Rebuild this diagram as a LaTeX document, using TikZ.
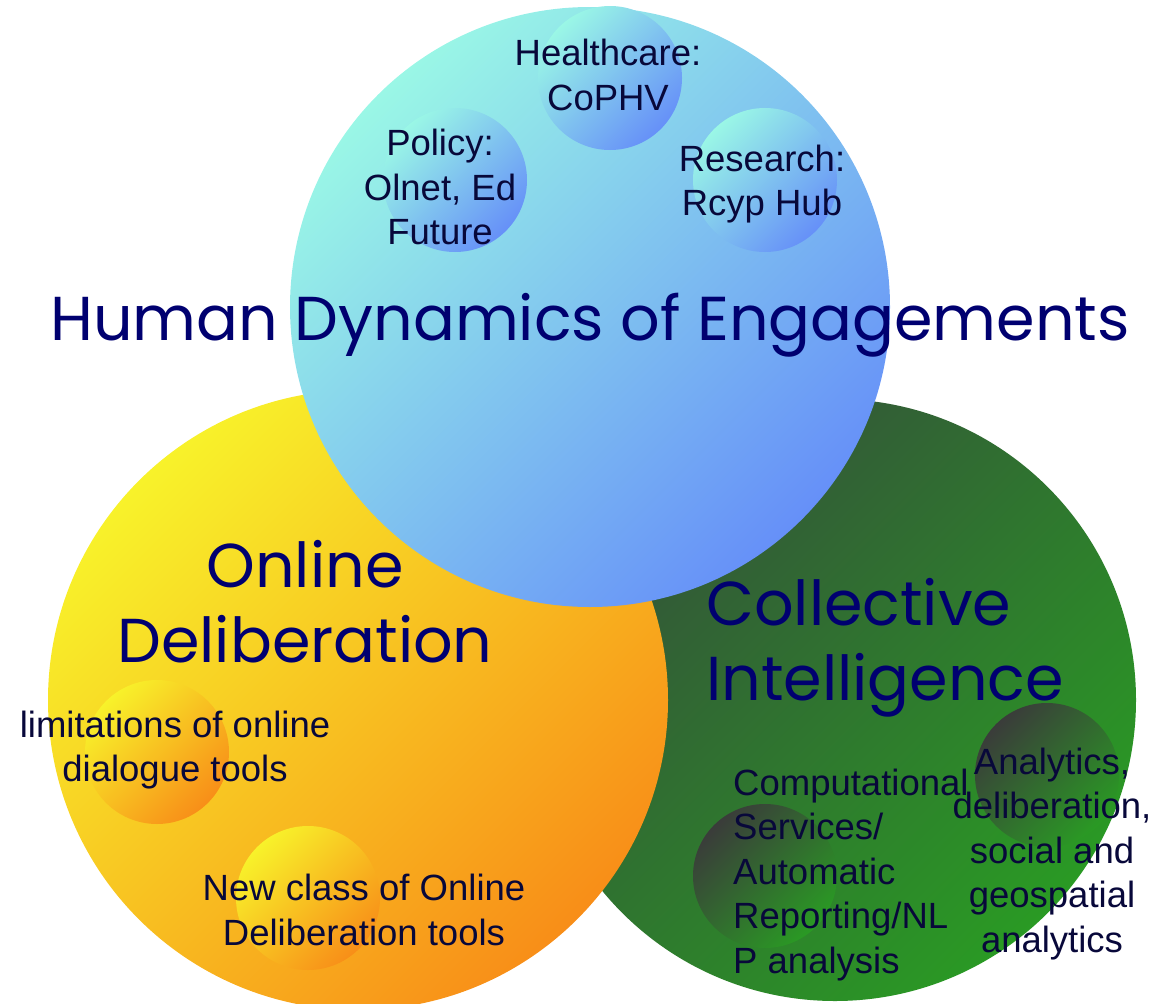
\documentclass[tikz,border=0pt]{standalone}
\usepackage{fontspec}
\setmainfont{Liberation Sans}
\newfontfamily\titlefont{Poppins}
\usetikzlibrary{positioning}
\definecolor{aqualt}{HTML}{9AF7E6}
\definecolor{bluedk}{HTML}{6690F8}
\definecolor{yellowlt}{HTML}{F8F22A}
\definecolor{orangedk}{HTML}{F88E18}
\definecolor{greendk}{HTML}{34503A}
\definecolor{greenlt}{HTML}{2A9A24}
\definecolor{greygreen}{HTML}{3A3C3A}
\definecolor{titleblue}{HTML}{000070}
\definecolor{textblue}{HTML}{08083A}

\begin{document}
\begin{tikzpicture}[x=1pt,y=-1pt,
    disc/.style n args={3}{circle, inner sep=0pt, minimum size=#1,
      top color=#2, bottom color=#3, shading angle=45},
    bubble/.style 2 args={disc={144pt}{#1}{#2}},
    title/.style={font=\titlefont\fontsize{62}{75}\selectfont, text=titleblue, align=center, inner sep=0pt},
    label/.style={font=\fontsize{36.5}{44.5}\selectfont, text=textblue, align=center, inner sep=0pt}]
  \useasboundingbox (0,0) rectangle (1162,1004);

  % big circles
  \node[disc={602pt}{greendk}{greenlt}] (ci) at (835,700) {};
  \node[disc={620pt}{yellowlt}{orangedk}] (od) at (358,700) {};
  \node[disc={600pt}{aqualt}{bluedk}] (hd) at (590,307) {};

  % small circles
  \foreach \name/\x/\y in {care/610/78, policy/455/180, research/765/180}
    \node[bubble={aqualt}{bluedk}] (\name) at (\x,\y) {};
  \foreach \name/\x/\y in {limits/157/752, newclass/308/898}
    \node[bubble={yellowlt}{orangedk}] (\name) at (\x,\y) {};
  \foreach \name/\x/\y in {comput/765/876, analytics/1047/775}
    \node[bubble={greygreen}{greenlt}] (\name) at (\x,\y) {};

  % titles
  \node[title, anchor=base] (hdtitle) at (590,340) {Human Dynamics of Engagements};
  \node[title] (odtitle) at (305,602) {Online\\Deliberation};
  \node[title, align=left, anchor=west] (cititle) at (706,648) {Collective\\Intelligence};

  % labels
  \node[label] (caretext) at (608,75) {Healthcare:\\CoPHV};
  \node[label] (policytext) at (440,187) {Policy:\\Olnet, Ed\\Future};
  \node[label] (researchtext) at (762,184) {Research:\\Rcyp Hub};
  \node[label] (limitstext) at (175,750) {limitations of online\\dialogue tools};
  \node[label] (newclasstext) at (364,910) {New class of Online\\Deliberation tools};
  \node[label, align=left, anchor=west] (computtext) at (733,875) {Computational\\Services/\\Automatic\\Reporting/NL\\P analysis};
  \node[label] (analyticstext) at (1052,854) {Analytics,\\deliberation,\\social and\\geospatial\\analytics};
\end{tikzpicture}
\end{document}
